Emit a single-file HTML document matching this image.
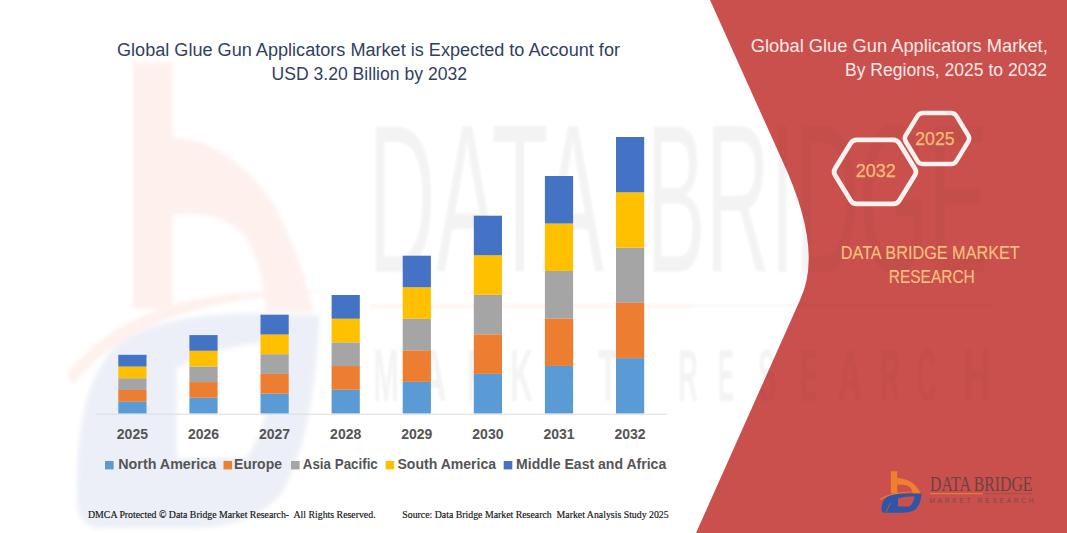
<!DOCTYPE html>
<html><head><meta charset="utf-8">
<style>
html,body{margin:0;padding:0;background:#fff;width:1067px;height:533px;overflow:hidden}
svg{display:block}
text{font-family:"Liberation Sans",sans-serif}
.yr{font-size:14px;font-weight:bold;fill:#555555}
.leg{font-size:14px;font-weight:bold;fill:#555555}
.ttl{font-size:18px;fill:#323F60}
.rt{font-size:18.5px;fill:#FBE9E6}
.hx{font-size:18px;fill:#FABB78;stroke:#FABB78;stroke-width:0.25px}
.db{font-size:17.5px;fill:#FBC27E;stroke:#FBC27E;stroke-width:0.1px}
.ft{font-family:"Liberation Serif",serif;font-size:9.8px;fill:#111;stroke:#111;stroke-width:0.15px}
</style></head>
<body>
<svg width="1067" height="533" viewBox="0 0 1067 533">
<defs><g id="logoshapes">
  <rect x="890.8" y="471.2" width="6.5" height="22" style="fill:var(--o,#F07F2E)"/>
  <path d="M897.2,477.9 C905,478 912,481.5 915.5,485.5 C918,488.5 919.5,491 920.5,493.5 L912.8,493.5 C912.3,490.5 911,488 909,486.5 C906,484.8 902,484.6 897.2,484.8 Z" style="fill:var(--o,#F07F2E)"/>
  <path d="M879.9,499 C888,493.6 900,491.2 923.2,491.6 C900,492.4 889,494.8 880.8,500 Z" style="fill:var(--o,#F07F2E)"/>
  <path fill-rule="evenodd" d="M881.5,510 C881.5,503 883.5,499 888,496.5 C896,493.2 910,493.4 921.5,493.8 C921,501 919,506 915.5,509.5 C911,512.5 905,512.8 898,512.8 L886,512.8 C883,512.8 881.5,512 881.5,510 Z M898,498.5 C903,497 909,496.2 914.5,496.2 C914,500.5 912.5,504 909.5,506.5 L898,506.5 Z" fill="#2E56A6"/>
</g><filter id="blur1" x="-5%" y="-5%" width="110%" height="110%"><feGaussianBlur stdDeviation="1.2"/></filter><filter id="blur3" x="-10%" y="-10%" width="120%" height="120%"><feGaussianBlur stdDeviation="0.35 0.2"/></filter><clipPath id="redclip"><path d="M710,0 L782,160 Q824,250 800,300 L696,533 L1067,533 L1067,0 Z"/></clipPath></defs>
<rect width="1067" height="533" fill="#ffffff"/>
<g id="wmtext" fill="#000" opacity="0.045" filter="url(#blur1)"><g style="font-family:'Liberation Sans',sans-serif;font-size:211px">
<text x="368" y="272" textLength="236" lengthAdjust="spacingAndGlyphs">DATA</text>
<text x="646" y="272" textLength="342" lengthAdjust="spacingAndGlyphs">BRIDGE</text>
</g>
<g style="font-family:'Liberation Sans',sans-serif;font-size:75px;font-weight:bold">
<text x="373" y="401" textLength="26" lengthAdjust="spacingAndGlyphs">M</text><text x="419" y="401" textLength="28" lengthAdjust="spacingAndGlyphs">A</text><text x="467" y="401" textLength="22" lengthAdjust="spacingAndGlyphs">R</text><text x="510" y="401" textLength="23" lengthAdjust="spacingAndGlyphs">K</text><text x="558" y="401" textLength="18" lengthAdjust="spacingAndGlyphs">E</text><text x="598" y="401" textLength="20" lengthAdjust="spacingAndGlyphs">T</text><text x="678" y="401" textLength="20" lengthAdjust="spacingAndGlyphs">R</text><text x="718" y="401" textLength="16" lengthAdjust="spacingAndGlyphs">E</text><text x="758" y="401" textLength="18" lengthAdjust="spacingAndGlyphs">S</text><text x="800" y="401" textLength="17" lengthAdjust="spacingAndGlyphs">E</text><text x="838" y="401" textLength="24" lengthAdjust="spacingAndGlyphs">A</text><text x="880" y="401" textLength="20" lengthAdjust="spacingAndGlyphs">R</text><text x="917" y="401" textLength="19" lengthAdjust="spacingAndGlyphs">C</text><text x="963" y="401" textLength="28" lengthAdjust="spacingAndGlyphs">H</text>
</g></g>
<!-- red panel -->
<path d="M710,0 L782,160 Q824,250 800,300 L696,533 L1067,533 L1067,0 Z" fill="#C9504C"/>
<g clip-path="url(#redclip)" opacity="0.55"><use href="#wmtext"/></g>
<!-- watermark -->
<use href="#logoshapes" transform="matrix(6.07 0 0 11.2 -5274.1 -5215)" opacity="0.085" style="--o:#EC5F3C" filter="url(#blur3)"/>
<rect x="371" y="303.5" width="322" height="5" fill="#F07F2E" opacity="0.06"/>
<rect x="693" y="303.5" width="300" height="4" fill="#000" opacity="0.02"/>

<!-- chart -->
<line x1="96" y1="414.2" x2="667" y2="414.2" stroke="#DCDCDC" stroke-width="1"/>
<rect x="118.30" y="401.68" width="28.2" height="11.74" fill="#5B9BD5"/><rect x="118.30" y="389.96" width="28.2" height="11.74" fill="#ED7D31"/><rect x="118.30" y="378.24" width="28.2" height="11.74" fill="#A5A5A5"/><rect x="118.30" y="366.52" width="28.2" height="11.74" fill="#FFC000"/><rect x="118.30" y="354.80" width="28.2" height="11.74" fill="#4472C4"/><rect x="189.40" y="397.74" width="28.2" height="15.68" fill="#5B9BD5"/><rect x="189.40" y="382.08" width="28.2" height="15.68" fill="#ED7D31"/><rect x="189.40" y="366.42" width="28.2" height="15.68" fill="#A5A5A5"/><rect x="189.40" y="350.76" width="28.2" height="15.68" fill="#FFC000"/><rect x="189.40" y="335.10" width="28.2" height="15.68" fill="#4472C4"/><rect x="260.50" y="393.66" width="28.2" height="19.76" fill="#5B9BD5"/><rect x="260.50" y="373.92" width="28.2" height="19.76" fill="#ED7D31"/><rect x="260.50" y="354.18" width="28.2" height="19.76" fill="#A5A5A5"/><rect x="260.50" y="334.44" width="28.2" height="19.76" fill="#FFC000"/><rect x="260.50" y="314.70" width="28.2" height="19.76" fill="#4472C4"/><rect x="331.60" y="389.72" width="28.2" height="23.70" fill="#5B9BD5"/><rect x="331.60" y="366.04" width="28.2" height="23.70" fill="#ED7D31"/><rect x="331.60" y="342.36" width="28.2" height="23.70" fill="#A5A5A5"/><rect x="331.60" y="318.68" width="28.2" height="23.70" fill="#FFC000"/><rect x="331.60" y="295.00" width="28.2" height="23.70" fill="#4472C4"/><rect x="402.70" y="381.86" width="28.2" height="31.56" fill="#5B9BD5"/><rect x="402.70" y="350.32" width="28.2" height="31.56" fill="#ED7D31"/><rect x="402.70" y="318.78" width="28.2" height="31.56" fill="#A5A5A5"/><rect x="402.70" y="287.24" width="28.2" height="31.56" fill="#FFC000"/><rect x="402.70" y="255.70" width="28.2" height="31.56" fill="#4472C4"/><rect x="473.80" y="373.86" width="28.2" height="39.56" fill="#5B9BD5"/><rect x="473.80" y="334.32" width="28.2" height="39.56" fill="#ED7D31"/><rect x="473.80" y="294.78" width="28.2" height="39.56" fill="#A5A5A5"/><rect x="473.80" y="255.24" width="28.2" height="39.56" fill="#FFC000"/><rect x="473.80" y="215.70" width="28.2" height="39.56" fill="#4472C4"/><rect x="544.90" y="365.92" width="28.2" height="47.50" fill="#5B9BD5"/><rect x="544.90" y="318.44" width="28.2" height="47.50" fill="#ED7D31"/><rect x="544.90" y="270.96" width="28.2" height="47.50" fill="#A5A5A5"/><rect x="544.90" y="223.48" width="28.2" height="47.50" fill="#FFC000"/><rect x="544.90" y="176.00" width="28.2" height="47.50" fill="#4472C4"/><rect x="616.00" y="358.12" width="28.2" height="55.30" fill="#5B9BD5"/><rect x="616.00" y="302.84" width="28.2" height="55.30" fill="#ED7D31"/><rect x="616.00" y="247.56" width="28.2" height="55.30" fill="#A5A5A5"/><rect x="616.00" y="192.28" width="28.2" height="55.30" fill="#FFC000"/><rect x="616.00" y="137.00" width="28.2" height="55.30" fill="#4472C4"/>
<text x="132.40" y="438.6" text-anchor="middle" class="yr">2025</text><text x="203.50" y="438.6" text-anchor="middle" class="yr">2026</text><text x="274.60" y="438.6" text-anchor="middle" class="yr">2027</text><text x="345.70" y="438.6" text-anchor="middle" class="yr">2028</text><text x="416.80" y="438.6" text-anchor="middle" class="yr">2029</text><text x="487.90" y="438.6" text-anchor="middle" class="yr">2030</text><text x="559.00" y="438.6" text-anchor="middle" class="yr">2031</text><text x="630.10" y="438.6" text-anchor="middle" class="yr">2032</text>
<rect x="105" y="461" width="8.6" height="8.4" fill="#5B9BD5"/><text x="118.3" y="469" textLength="97.9" lengthAdjust="spacingAndGlyphs" class="leg">North America</text><rect x="223.5" y="461" width="8.6" height="8.4" fill="#ED7D31"/><text x="233.9" y="469" textLength="48.0" lengthAdjust="spacingAndGlyphs" class="leg">Europe</text><rect x="291" y="461" width="8.6" height="8.4" fill="#A5A5A5"/><text x="302.8" y="469" textLength="75.0" lengthAdjust="spacingAndGlyphs" class="leg">Asia Pacific</text><rect x="385.6" y="461" width="8.6" height="8.4" fill="#FFC000"/><text x="397.5" y="469" textLength="98.6" lengthAdjust="spacingAndGlyphs" class="leg">South America</text><rect x="503.7" y="461" width="8.6" height="8.4" fill="#4472C4"/><text x="516.1" y="469" textLength="150.1" lengthAdjust="spacingAndGlyphs" class="leg">Middle East and Africa</text>
<!-- titles -->
<text x="117" y="56" textLength="503" lengthAdjust="spacingAndGlyphs" class="ttl">Global Glue Gun Applicators Market is Expected to Account for</text>
<text x="271.5" y="80.1" textLength="195.5" lengthAdjust="spacingAndGlyphs" class="ttl">USD 3.20 Billion by 2032</text>
<text x="750.8" y="51.8" textLength="297" lengthAdjust="spacingAndGlyphs" class="rt">Global Glue Gun Applicators Market,</text>
<text x="845" y="75.6" textLength="202" lengthAdjust="spacingAndGlyphs" class="rt">By Regions, 2025 to 2032</text>
<!-- hexagons -->
<path d="M835.10,175.30 Q833.00,171.90 835.10,168.50 L850.64,143.30 Q852.74,139.90 856.74,139.90 L893.26,139.90 Q897.26,139.90 899.36,143.30 L914.90,168.50 Q917.00,171.90 914.90,175.30 L899.36,200.50 Q897.26,203.90 893.26,203.90 L856.74,203.90 Q852.74,203.90 850.64,200.50 Z" fill="none" stroke="#FBF1EE" stroke-width="4.7" stroke-linejoin="round"/>
<path d="M905.67,141.49 Q903.85,138.50 905.67,135.51 L917.61,115.89 Q919.43,112.90 922.93,112.90 L951.07,112.90 Q954.57,112.90 956.39,115.89 L968.33,135.51 Q970.15,138.50 968.33,141.49 L956.39,161.11 Q954.57,164.10 951.07,164.10 L922.93,164.10 Q919.43,164.10 917.61,161.11 Z" fill="none" stroke="#FBF1EE" stroke-width="4.5" stroke-linejoin="round"/>
<text x="915.3" y="144.9" textLength="39.2" lengthAdjust="spacingAndGlyphs" class="hx">2025</text>
<text x="855.8" y="177" textLength="40" lengthAdjust="spacingAndGlyphs" class="hx">2032</text>
<text x="840.8" y="259" textLength="179" lengthAdjust="spacingAndGlyphs" class="db">DATA BRIDGE MARKET</text>
<text x="888.8" y="282.8" textLength="86" lengthAdjust="spacingAndGlyphs" class="db">RESEARCH</text>
<!-- small logo -->
<use href="#logoshapes"/>
<path d="M886,512.5 L890.5,503" stroke="#C9504C" stroke-width="0.9"/>
<rect x="930" y="493.1" width="53" height="1.1" fill="#F07F2E"/>
<rect x="983" y="493.3" width="49" height="0.8" fill="#8A4A48" opacity="0.6"/>
<text x="930" y="491.2" textLength="102.5" lengthAdjust="spacingAndGlyphs" style="font-family:'Liberation Serif',serif;font-size:21px;fill:#6A4242">DATA BRIDGE</text>
<text x="929.5" y="502.6" textLength="104" lengthAdjust="spacing" style="font-family:'Liberation Sans',sans-serif;font-size:6.5px;fill:#7A4A48">MARKET RESEARCH</text>
<!-- footer -->
<text x="88" y="518.3" textLength="287.6" lengthAdjust="spacingAndGlyphs" class="ft">DMCA Protected © Data Bridge Market Research-&#160; All Rights Reserved.</text>
<text x="402.3" y="518.3" textLength="266.4" lengthAdjust="spacingAndGlyphs" class="ft">Source: Data Bridge Market Research&#160; Market Analysis Study 2025</text>
</svg>
</body></html>
